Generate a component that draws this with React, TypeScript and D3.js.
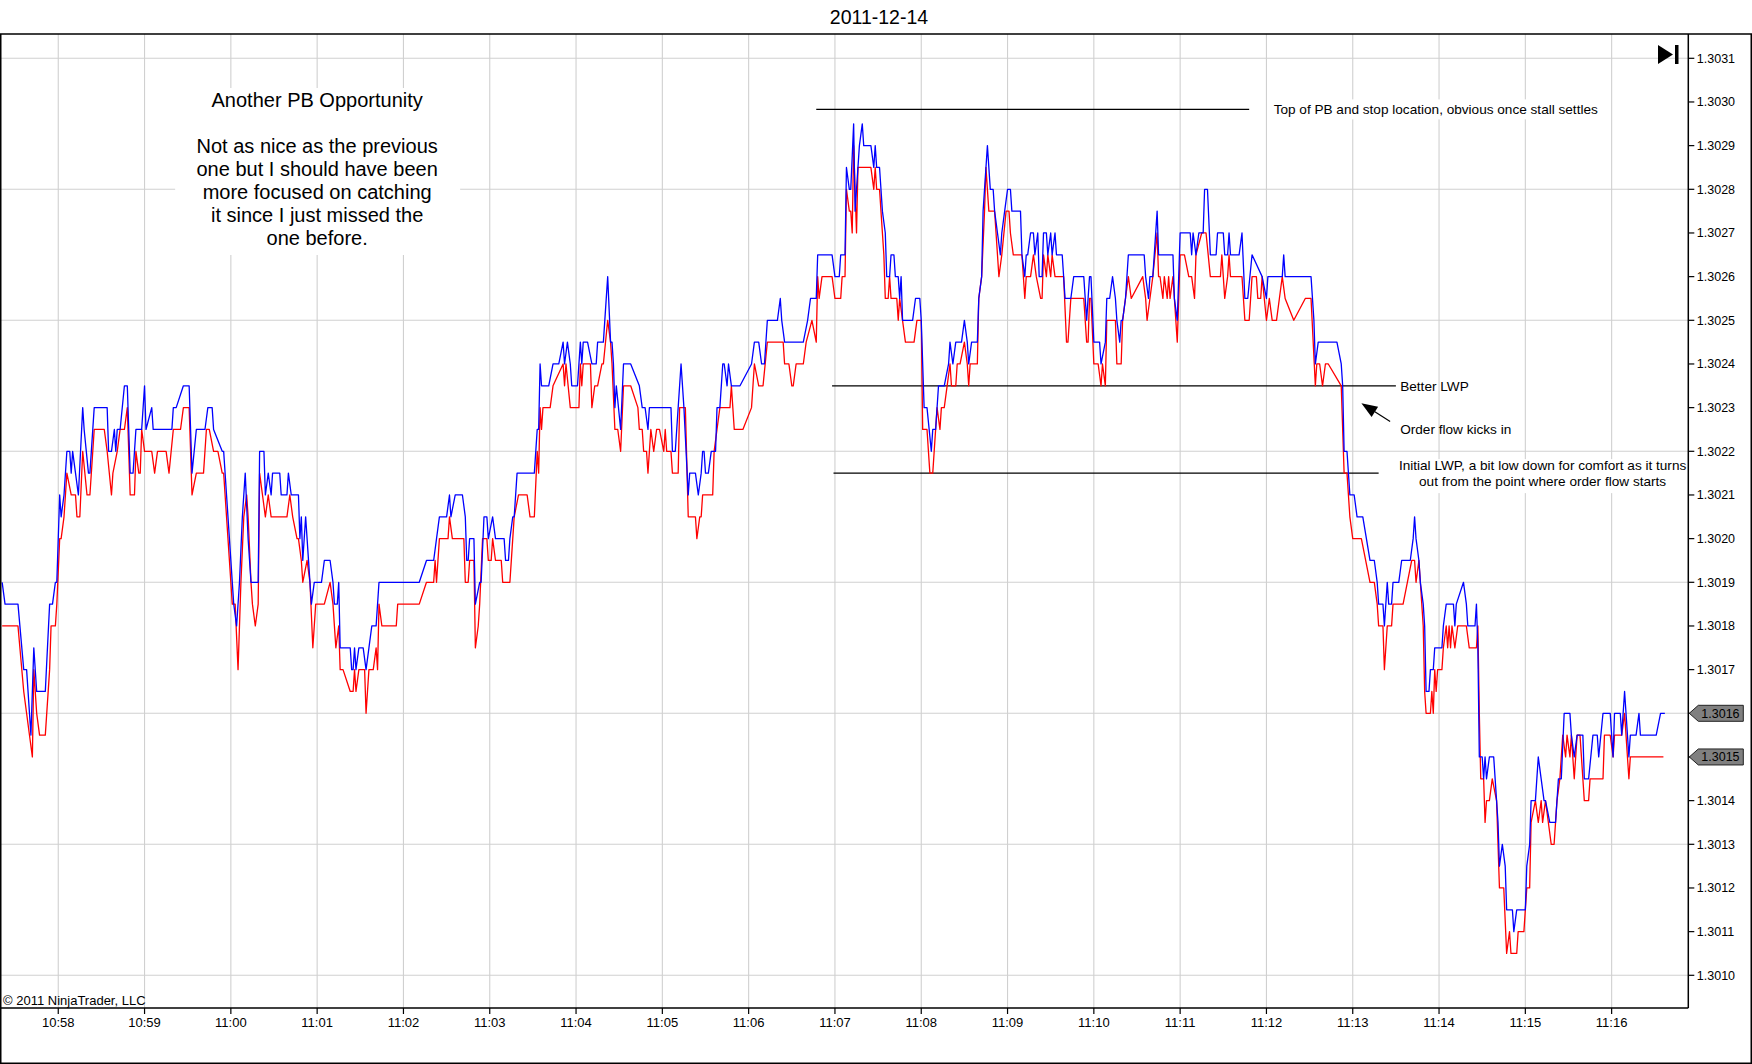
import React, { useEffect, useRef } from 'react';
import * as d3 from 'd3';

// tick data: [seconds after 10:57:00, price]
const askTicks: [number, number][] = [
  [21,1.3019],[23,1.30185],[32,1.30185],[36,1.3017],[38,1.3017],[41,1.30155],[43,1.30175],[45,1.30165],[51,1.30165],[54,1.30185],[56,1.30185],[58,1.3019],[59,1.3019],[61,1.3021],[62,1.30205],[64,1.3021],[66,1.3022],[68,1.3022],[69,1.30215],[70,1.3022],[72,1.30215],[74,1.3021],[77,1.3023],[78,1.30225],[81,1.30215],[82,1.30215],[85,1.3023],[94,1.3023],[95,1.3022],[97,1.3022],[99,1.30225],[100,1.3022],[101,1.30225],[103,1.30225],[106,1.30235],[108,1.30235],[110,1.30215],[112,1.30215],[114,1.30225],[118,1.30225],[120,1.30235],[121,1.30225],[125,1.3023],[126,1.30225],[139,1.30225],[140,1.3023],[142,1.3023],[147,1.30235],[151,1.30235],[153,1.30215],[156,1.30225],[162,1.30225],[164,1.3023],[167,1.3023],[168,1.30225],[174,1.3022],[175,1.3022],[179,1.302],[181,1.3019],[182,1.30185],[184,1.3018],[186,1.3019],[188,1.30205],[190,1.30215],[192,1.302],[194,1.3019],[199,1.3019],[200,1.3022],[203,1.3022],[204,1.3021],[206,1.30215],[208,1.3021],[209,1.30215],[214,1.30215],[215,1.3021],[219,1.3021],[220,1.30215],[222,1.3021],[227,1.3021],[228,1.302],[229,1.30205],[230,1.30195],[232,1.30205],[233,1.302],[236,1.30185],[238,1.3019],[243,1.3019],[245,1.30195],[249,1.30195],[251,1.3019],[252,1.30185],[254,1.30185],[255,1.3019],[256,1.30175],
  [263,1.30175],[264,1.3017],[265,1.3017],[266,1.30175],[267,1.3017],[269,1.30175],[272,1.30175],[274,1.3017],[276,1.30175],[278,1.3018],[281,1.3018],[283,1.3019],[311,1.3019],[316,1.30195],[321,1.30195],[323,1.302],[325,1.30205],[330,1.30205],[332,1.3021],[333,1.30205],[336,1.3021],[341,1.3021],[343,1.30205],[344,1.30195],[345,1.30195],[346,1.302],[349,1.302],[350,1.30185],[353,1.3019],[354,1.3019],[356,1.30205],[358,1.30205],[359,1.302],[362,1.30205],[364,1.302],[370,1.302],[371,1.30195],[373,1.30195],[374,1.302],[376,1.30205],[377,1.30205],[379,1.30215],[391,1.30215],[393,1.30225],[394,1.30225],[395,1.3024],[396,1.30235],[401,1.30235],[404,1.3024],[408,1.3024],[411,1.30245],[412,1.3024],[414,1.30245],[416,1.3024],[417,1.30235],[421,1.30235],[423,1.30245],[424,1.3024],[425,1.30245],[428,1.30245],[431,1.3024],[434,1.3024],[435,1.30245],[439,1.30245],[442,1.3026],[444,1.30245],[445,1.30245],[446,1.3024],[447,1.3023],[448,1.30235],[451,1.30225],[453,1.3024],[458,1.3024],[464,1.30235],[466,1.3023],[468,1.3023],[470,1.30225],[471,1.3023],[486,1.3023],[487,1.3022],[489,1.3022],[493,1.3024],[495,1.3023],[498,1.3021],[499,1.30215],
  [503,1.30215],[505,1.3021],[507,1.30215],[508,1.3022],[509,1.3022],[510,1.30215],[512,1.30215],[514,1.3022],[517,1.3022],[518,1.3023],[520,1.3023],[522,1.3024],[523,1.3024],[525,1.30235],[526,1.3024],[528,1.30235],[534,1.30235],[542,1.3024],[544,1.30245],[547,1.30245],[549,1.3024],[551,1.3024],[553,1.3025],[560,1.3025],[562,1.30255],[563,1.3025],[565,1.30245],[578,1.30245],[581,1.3025],[583,1.30255],[587,1.30255],[588,1.30265],[598,1.30265],[600,1.3026],[603,1.3026],[604,1.30265],[607,1.30265],[608,1.30285],[610,1.3028],[611,1.3028],[613,1.30295],[614,1.30275],[617,1.3029],[619,1.30295],[620,1.3029],[625,1.3029],[627,1.30285],[628,1.3029],[629,1.30285],[631,1.30285],[632,1.3028],[633,1.30275],[635,1.3027],[636,1.3026],[638,1.3026],[639,1.30265],[641,1.30265],[642,1.3026],[644,1.3026],[645,1.30255],[646,1.3026],[647,1.3025],[654,1.3025],[656,1.30255],[659,1.30255],[660,1.3025],[662,1.3023],[664,1.3023],[667,1.3022],[668,1.30225],[670,1.30225],[672,1.30235],[676,1.30235],[679,1.3024],[680,1.30245],[682,1.3024],[684,1.30245],[688,1.30245],[690,1.3025],[692,1.30245],[693,1.3024],[695,1.30245],[699,1.30245],[700,1.30255],[702,1.3026],[703,1.30275],[704,1.3028],[706,1.3029],[708,1.3028],[710,1.3028],[711,1.30275],[713,1.3027],[715,1.30265],[716,1.3027],[718,1.30275],[720,1.3028],[722,1.3028],[723,1.30275],[729,1.30275],[730,1.30265],[732,1.3026],[733,1.30265],[734,1.30265],[736,1.3027],[738,1.3027],[739,1.30265],[741,1.3027],[742,1.3026],
  [744,1.3026],[745,1.3027],[747,1.3027],[748,1.30265],[750,1.3027],[751,1.30265],[753,1.3027],[754,1.30265],[758,1.30265],[760,1.30255],[764,1.30255],[766,1.3026],[773,1.3026],[775,1.3025],[777,1.3026],[778,1.3026],[780,1.30245],[784,1.30245],[785,1.3024],[788,1.30245],[789,1.30255],[791,1.30255],[793,1.3026],[795,1.30255],[796,1.3025],[798,1.30245],[799,1.3025],[800,1.3025],[802,1.30255],[804,1.30265],[815,1.30265],[816,1.3026],[818,1.30255],[819,1.3026],[821,1.3026],[822,1.30265],[824,1.30275],[825,1.30265],[835,1.30265],[836,1.30255],[838,1.3025],[840,1.3027],[847,1.3027],[848,1.30265],[849,1.3027],[851,1.30265],[853,1.3027],[856,1.3027],[857,1.3028],[859,1.3028],[861,1.30265],[865,1.30265],[866,1.3027],[870,1.3027],[871,1.30265],[873,1.30265],[874,1.3027],[875,1.30265],[881,1.30265],[883,1.3027],[885,1.30255],[887,1.30255],[890,1.30265],[897,1.3026],[900,1.30255],[901,1.3026],[911,1.3026],[912,1.30265],[913,1.3026],[931,1.3026],[933,1.3025],[934,1.3024],[936,1.30245],[949,1.30245],[952,1.3024],[953,1.30235],[954,1.3022],[956,1.3022],[958,1.3021],[961,1.3021],[963,1.30205],[967,1.30205],
  [972,1.30195],[975,1.30195],[977,1.3019],[978,1.30185],[981,1.30185],[982,1.3018],[984,1.3019],[985,1.30185],[987,1.30185],[988,1.3019],[992,1.3019],[994,1.30195],[1000,1.30195],[1002,1.302],[1003,1.30205],[1004,1.302],[1006,1.30195],[1007,1.3019],[1009,1.30185],[1010,1.3018],[1011,1.30165],[1013,1.30165],[1014,1.3017],[1016,1.3017],[1017,1.30175],[1022,1.30175],[1023,1.3018],[1025,1.30185],[1030,1.30185],[1031,1.3018],[1032,1.30185],[1037,1.3019],[1039,1.30185],[1040,1.3018],[1045,1.3018],[1046,1.30185],[1047,1.30175],[1048,1.3015],[1050,1.3015],[1051,1.30145],[1052,1.3015],[1053,1.30145],[1055,1.3015],[1058,1.3015],[1060,1.3014],[1061,1.30135],[1062,1.30125],[1064,1.3013],[1066,1.30125],[1067,1.30115],[1071,1.30115],[1072,1.3011],[1074,1.30115],[1080,1.30115],[1081,1.30125],[1083,1.3013],[1084,1.3014],[1087,1.3014],[1089,1.3015],[1091,1.30145],[1093,1.3014],[1094,1.3014],[1097,1.30135],[1101,1.30135],[1103,1.30145],[1105,1.30145],[1107,1.3016],[1111,1.3016],[1112,1.30155],[1114,1.3015],[1116,1.30155],[1120,1.30155],[1121,1.30145],[1124,1.30145],[1127,1.30155],[1130,1.30155],[1131,1.3015],[1134,1.3016],[1139,1.3016],[1140,1.30155],[1141,1.3015],[1142,1.3016],[1146,1.3016],[1147,1.30155],[1149,1.30165],[1150,1.3016],[1152,1.3015],[1153,1.30155],[1157,1.30155],[1159,1.3016],[1160,1.30155],[1171,1.30155],[1174,1.3016],[1177,1.3016],
];

const bidTicks: [number, number][] = [
  [21,1.3018],[32,1.3018],[36,1.30165],[42,1.3015],[43,1.3017],[45,1.3016],[47,1.30155],[51,1.30155],[54,1.3017],[55,1.3018],[58,1.3018],[59,1.30185],[61,1.302],[62,1.302],[64,1.30205],[66,1.30215],[69,1.3021],[72,1.3021],[73,1.30205],[75,1.30205],[77,1.3022],[80,1.3021],[82,1.3021],[85,1.30225],[92,1.30225],[94,1.3022],[97,1.3021],[98,1.30215],[101,1.3022],[103,1.30225],[106,1.30225],[108,1.3023],[110,1.3021],[113,1.3021],[114,1.3022],[116,1.30215],[117,1.30215],[118,1.30225],[120,1.3022],[125,1.3022],[127,1.30215],[129,1.3022],[135,1.3022],[137,1.30215],[140,1.30225],[145,1.30225],[147,1.3023],[151,1.3023],[153,1.3021],[156,1.30215],[161,1.30215],[163,1.30225],[165,1.30225],[168,1.3022],[171,1.3022],[174,1.30215],[175,1.30215],[179,1.30195],[181,1.30185],[183,1.30185],[185,1.3017],[187,1.3019],[189,1.30205],[191,1.3021],[192,1.30205],[194,1.3019],[195,1.30185],[197,1.3018],[199,1.30185],[200,1.30215],[202,1.3021],[204,1.30205],[206,1.3021],[208,1.30205],[219,1.30205],[221,1.3021],[223,1.30205],[226,1.302],[227,1.302],[229,1.30195],[230,1.3019],[233,1.30195],[235,1.3019],[237,1.30175],[239,1.30185],[245,1.30185],[249,1.3019],[251,1.30185],[253,1.30175],[255,1.3018],
  [256,1.3017],[258,1.3017],[263,1.30165],[265,1.30165],[266,1.3017],[267,1.30165],[269,1.3017],[273,1.3017],[274,1.3016],[276,1.3017],[279,1.3017],[281,1.30175],[282,1.3017],[283,1.30185],[285,1.3018],[288,1.3018],[295,1.3018],[296,1.30185],[311,1.30185],[316,1.3019],[321,1.3019],[322,1.30195],[323,1.3019],[325,1.302],[331,1.302],[332,1.30205],[334,1.302],[342,1.302],[343,1.3019],[345,1.3019],[346,1.30195],[349,1.30195],[350,1.30175],[352,1.3018],[353,1.30185],[355,1.302],[358,1.302],[359,1.30195],[361,1.30195],[362,1.302],[364,1.30195],[368,1.30195],[369,1.3019],[374,1.3019],[376,1.302],[377,1.30205],[380,1.3021],[386,1.3021],[388,1.30205],[391,1.30205],[393,1.3022],[394,1.30215],[395,1.3023],[396,1.30225],[397,1.3023],[402,1.3023],[404,1.30235],[411,1.3024],[412,1.30235],[413,1.3024],[416,1.3023],[417,1.3023],[422,1.3023],[423,1.3024],[424,1.30235],[425,1.3024],[430,1.3024],[431,1.3023],[433,1.30235],[435,1.30235],[438,1.3024],[439,1.3024],[442,1.3025],[444,1.30245],[445,1.3024],[447,1.30225],[449,1.30225],[451,1.3022],[453,1.30235],[458,1.30235],[463,1.3023],[464,1.30225],[466,1.30225],[467,1.3022],[469,1.3022],[470,1.30215],[472,1.30225],[474,1.3022],[476,1.30225],[478,1.30225],[481,1.3022],[482,1.30225],[483,1.3022],[486,1.3022],[487,1.30215],[491,1.30215],[492,1.3023],[496,1.3023],[498,1.30205],[499,1.30205],
  [503,1.30205],[504,1.302],[506,1.30205],[507,1.30205],[508,1.3021],[515,1.3021],[516,1.3022],[518,1.30225],[520,1.3023],[527,1.3023],[528,1.30235],[530,1.30225],[536,1.30225],[542,1.3023],[544,1.3024],[547,1.30235],[550,1.30235],[553,1.30245],[564,1.30245],[565,1.3024],[568,1.3024],[570,1.30235],[571,1.30235],[573,1.3024],[578,1.3024],[580,1.30245],[584,1.3025],[587,1.30245],[588,1.3026],[589,1.30255],[591,1.3026],[598,1.3026],[600,1.30255],[604,1.30255],[605,1.3026],[607,1.3026],[608,1.3028],[610,1.30275],[611,1.30275],[612,1.3027],[613,1.3029],[615,1.3027],[616,1.30285],[625,1.30285],[627,1.3028],[628,1.30285],[629,1.3028],[631,1.3028],[632,1.30275],[634,1.30265],[635,1.30255],[637,1.30255],[638,1.3026],[639,1.30255],[643,1.30255],[644,1.3025],[645,1.30255],[647,1.3025],[649,1.30245],[655,1.30245],[657,1.3025],[660,1.3025],[661,1.30225],[664,1.30225],[666,1.30215],[668,1.30215],[669,1.3022],[671,1.3023],[673,1.30225],[674,1.3023],[676,1.3023],[678,1.30235],[680,1.3024],[681,1.30235],[684,1.30235],[685,1.3024],[687,1.3024],[690,1.30245],[692,1.3024],[693,1.30235],[694,1.3024],[699,1.3024],[700,1.30255],[702,1.3026],[704,1.30275],[705,1.30285],[707,1.30275],[711,1.30275],[712,1.3027],[714,1.3026],[716,1.30265],[719,1.30275],[721,1.30275],[722,1.3027],[724,1.30265],[730,1.30265],[732,1.30255],[733,1.3026],[736,1.3026],[738,1.30265],[740,1.3026],[743,1.30255],
  [744,1.30255],[745,1.30265],[747,1.3026],[748,1.30265],[750,1.3026],[751,1.30265],[753,1.3026],[759,1.3026],[761,1.30245],[762,1.30245],[764,1.30255],[773,1.30255],[775,1.30245],[776,1.30245],[777,1.30255],[778,1.30255],[780,1.3024],[783,1.3024],[785,1.30235],[786,1.3024],[788,1.30235],[789,1.3025],[795,1.3025],[796,1.3024],[799,1.3024],[800,1.3025],[802,1.30255],[804,1.3026],[806,1.30255],[814,1.3026],[816,1.30255],[817,1.3025],[819,1.30255],[821,1.3026],[824,1.3027],[825,1.3026],[826,1.3026],[828,1.30255],[829,1.3026],[831,1.30255],[832,1.3026],[833,1.30255],[835,1.3026],[836,1.30255],[838,1.30245],[839,1.30255],[840,1.30265],[843,1.30265],[846,1.3026],[848,1.3026],[850,1.30255],[851,1.30265],[855,1.3027],[858,1.3027],[861,1.3026],[868,1.3026],[869,1.30265],[870,1.3026],[871,1.30255],[873,1.3026],[874,1.30265],[875,1.3026],[883,1.3026],[885,1.3025],[888,1.3025],[890,1.3026],[893,1.3026],[894,1.30255],[896,1.30255],[897,1.3026],[900,1.3025],[902,1.30255],[904,1.3025],[907,1.3025],[909,1.30255],[911,1.3026],[913,1.30255],[919,1.3025],[927,1.30255],[931,1.30255],[934,1.30235],[935,1.3024],[937,1.3024],[939,1.30235],[941,1.3024],[943,1.3024],[952,1.30235],[954,1.30215],[956,1.30215],[958,1.30205],[960,1.302],[966,1.302],
  [972,1.3019],[975,1.3019],[977,1.30185],[978,1.3018],[981,1.3018],[982,1.3017],[984,1.3018],[987,1.3018],[988,1.30185],[995,1.30185],[1001,1.30195],[1003,1.30195],[1004,1.3019],[1006,1.30195],[1007,1.3019],[1009,1.3018],[1010,1.30165],[1011,1.3016],[1014,1.3016],[1015,1.30165],[1016,1.3016],[1017,1.3017],[1018,1.30165],[1019,1.3017],[1022,1.3017],[1023,1.30175],[1025,1.3018],[1026,1.30175],[1027,1.3018],[1028,1.30175],[1029,1.3018],[1031,1.30175],[1033,1.3018],[1039,1.3018],[1041,1.30175],[1046,1.30175],[1047,1.3018],[1048,1.3016],[1049,1.30145],[1051,1.30145],[1052,1.30135],[1053,1.3014],[1055,1.3014],[1057,1.30145],[1060,1.3014],[1062,1.3012],[1065,1.3012],[1067,1.30105],[1069,1.3011],[1070,1.30105],[1074,1.30105],[1075,1.3011],[1079,1.3011],[1081,1.3012],[1083,1.3012],[1084,1.30135],[1087,1.3014],[1089,1.30135],[1091,1.3014],[1092,1.30135],[1094,1.3014],[1096,1.30135],[1098,1.3013],[1100,1.3013],[1102,1.3014],[1104,1.30145],[1106,1.30155],[1108,1.3015],[1109,1.30155],[1111,1.3015],[1112,1.30155],[1114,1.30145],[1116,1.30155],[1118,1.30155],[1121,1.3014],[1124,1.3014],[1125,1.30145],[1134,1.30145],[1135,1.30155],[1139,1.30155],[1141,1.3015],[1142,1.30155],[1147,1.30155],[1149,1.3016],[1150,1.30155],[1152,1.30145],[1153,1.3015],[1176,1.3015],
];

const timeLabels = ['10:58','10:59','11:00','11:01','11:02','11:03','11:04','11:05','11:06','11:07','11:08','11:09','11:10','11:11','11:12','11:13','11:14','11:15','11:16'];
const priceLabels = ['1.3010','1.3011','1.3012','1.3013','1.3014','1.3015','1.3016','1.3017','1.3018','1.3019','1.3020','1.3021','1.3022','1.3023','1.3024','1.3025','1.3026','1.3027','1.3028','1.3029','1.3030','1.3031'];
const gridPrices = ['1.3010','1.3013','1.3016','1.3019','1.3022','1.3025','1.3028','1.3031'];

// drawn horizontal levels: [from, to, price]
const levelLines: [string, string, number][] = [
  ['11:06:47', '11:11:48', 1.302983],
  ['11:06:58', '11:13:30', 1.30235],
  ['11:06:59', '11:13:18', 1.30215],
];

const noteLines = [
  'Another PB Opportunity',
  '',
  'Not as nice as the previous',
  'one but I should have been',
  'more focused on catching',
  'it since I just missed the',
  'one before.',
];

const FONT = '"Liberation Sans", Arial, sans-serif';
const W = 1752;
const H = 1064;

const at = (hms: string) => {
  const [h, m, s] = hms.split(':').map(Number);
  return new Date(2011, 11, 14, h, m, s || 0);
};
const fromStart = (sec: number) => new Date(at('10:57:00').getTime() + sec * 1000);

const App: React.FC = () => {
  const ref = useRef<SVGSVGElement | null>(null);

  useEffect(() => {
    if (!ref.current) return;
    const svg = d3.select(ref.current);
    svg.selectAll('*').remove();

    const plotRight = 1688.3;
    const plotTop = 34;
    const plotBottom = 1008;

    const x = d3.scaleTime()
      .domain([fromStart(19.5), fromStart(1193.3)])
      .range([0, plotRight]);
    const y = d3.scaleLinear().domain([1.3010, 1.3031]).range([975.3, 58.3]);

    svg.append('rect').attr('width', W).attr('height', H).attr('fill', '#fff');

    // title
    svg.append('text').attr('x', 879).attr('y', 24).attr('text-anchor', 'middle')
      .attr('font-family', FONT).attr('font-size', 19.5).text('2011-12-14');

    // grid
    const grid = svg.append('g').attr('stroke', '#d0d0d0').attr('stroke-width', 1.1);
    gridPrices.forEach(p => {
      grid.append('line').attr('x1', 0).attr('x2', plotRight)
        .attr('y1', y(+p)).attr('y2', y(+p));
    });
    timeLabels.forEach(t => {
      grid.append('line').attr('x1', x(at(t))).attr('x2', x(at(t)))
        .attr('y1', plotTop).attr('y2', plotBottom);
    });

    // note box
    const boxCx = x(at('11:01:00'));
    svg.append('rect').attr('x', boxCx - 142).attr('y', 88).attr('width', 285).attr('height', 167)
      .attr('fill', '#fff');
    const note = svg.append('text').attr('font-family', FONT).attr('font-size', 20)
      .attr('text-anchor', 'middle');
    noteLines.forEach((l, i) => {
      note.append('tspan').attr('x', boxCx).attr('y', 106.5 + i * 23).text(l);
    });

    // level lines
    levelLines.forEach(([a, b, p]) => {
      svg.append('line').attr('x1', x(at(a))).attr('x2', x(at(b)))
        .attr('y1', y(p)).attr('y2', y(p)).attr('stroke', '#000').attr('stroke-width', 1.3);
    });

    // price lines
    const line = d3.line<[number, number]>()
      .x(d => x(fromStart(d[0])))
      .y(d => y(d[1]));
    svg.append('path').datum(bidTicks).attr('d', line).attr('fill', 'none')
      .attr('stroke', '#ff0000').attr('stroke-width', 1.3).attr('stroke-linejoin', 'round');
    svg.append('path').datum(askTicks).attr('d', line).attr('fill', 'none')
      .attr('stroke', '#0000ff').attr('stroke-width', 1.3).attr('stroke-linejoin', 'round');

    // annotation texts
    const ann = svg.append('g').attr('font-family', FONT).attr('font-size', 13.6).attr('fill', '#000');
    const topY = y(levelLines[0][2]);
    const topX = x(at('11:12:05'));
    const topText = 'Top of PB and stop location, obvious once stall settles';
    ann.append('rect').attr('x', topX - 4).attr('y', topY - 10).attr('width', 332).attr('height', 20).attr('fill', '#fff');
    ann.append('text').attr('x', topX).attr('y', topY).attr('dy', '0.35em').text(topText);

    ann.append('text').attr('x', x(at('11:13:33'))).attr('y', y(1.30235)).attr('dy', '0.35em').text('Better LWP');
    ann.append('text').attr('x', x(at('11:13:33'))).attr('y', y(1.30225)).attr('dy', '0.35em').text('Order flow kicks in');

    const initX = x(at('11:15:12'));
    const initY = y(1.30215);
    ann.append('rect').attr('x', initX - 148).attr('y', initY - 14).attr('width', 296).attr('height', 34).attr('fill', '#fff');
    ann.append('text').attr('x', initX).attr('y', initY - 3).attr('text-anchor', 'middle')
      .text('Initial LWP, a bit low down for comfort as it turns');
    ann.append('text').attr('x', initX).attr('y', initY + 12.5).attr('text-anchor', 'middle')
      .text('out from the point where order flow starts');

    // arrow
    const ax1 = x(at('11:13:26')), ay1 = y(1.302268);
    const ax2 = x(at('11:13:06')), ay2 = y(1.30231);
    const ang = Math.atan2(ay2 - ay1, ax2 - ax1);
    const headLen = 16, headW = 6;
    const bx = ax2 - headLen * Math.cos(ang), by = ay2 - headLen * Math.sin(ang);
    svg.append('line').attr('x1', ax1).attr('y1', ay1).attr('x2', bx).attr('y2', by)
      .attr('stroke', '#000').attr('stroke-width', 1.2);
    svg.append('path')
      .attr('d', `M${ax2},${ay2}L${bx - headW * Math.sin(ang)},${by + headW * Math.cos(ang)}L${bx + headW * Math.sin(ang)},${by - headW * Math.cos(ang)}Z`)
      .attr('fill', '#000');

    // frame
    const frame = svg.append('g').attr('stroke', '#000').attr('stroke-width', 1.5).attr('fill', 'none');
    frame.append('rect').attr('x', 0.75).attr('y', 34).attr('width', W - 1.5).attr('height', H - 34.75);
    frame.append('line').attr('x1', 0).attr('x2', plotRight).attr('y1', plotBottom).attr('y2', plotBottom);
    frame.append('line').attr('x1', plotRight).attr('x2', plotRight).attr('y1', plotTop).attr('y2', plotBottom);

    // last price markers
    const markers: [number, string][] = [
      [askTicks[askTicks.length - 1][1], askTicks[askTicks.length - 1][1].toFixed(4)],
      [bidTicks[bidTicks.length - 1][1], bidTicks[bidTicks.length - 1][1].toFixed(4)],
    ];
    const covered = new Set(markers.map(m => m[1]));

    // y axis
    const yAxis = svg.append('g').attr('font-family', FONT).attr('font-size', 12.5);
    priceLabels.forEach(p => {
      const yy = y(+p);
      yAxis.append('line').attr('x1', plotRight).attr('x2', plotRight + 6).attr('y1', yy).attr('y2', yy)
        .attr('stroke', '#000').attr('stroke-width', 1.2);
      if (!covered.has(p)) {
        yAxis.append('text').attr('x', plotRight + 8.5).attr('y', yy).attr('dy', '0.35em').text(p);
      }
    });

    // x axis
    const xAxis = svg.append('g').attr('font-family', FONT).attr('font-size', 13);
    timeLabels.forEach(t => {
      const xx = x(at(t));
      xAxis.append('line').attr('x1', xx).attr('x2', xx).attr('y1', plotBottom).attr('y2', plotBottom + 6)
        .attr('stroke', '#000').attr('stroke-width', 1.2);
      xAxis.append('text').attr('x', xx).attr('y', 1027).attr('text-anchor', 'middle').text(t);
    });

    svg.append('text').attr('x', 3).attr('y', 1005).attr('font-family', FONT).attr('font-size', 13)
      .text('\u00a9 2011 NinjaTrader, LLC');

    markers.forEach(([p, label]) => {
      const yy = y(p);
      const x0 = plotRight + 1;
      svg.append('path')
        .attr('d', `M${x0},${yy}L${x0 + 9},${yy - 8}L${x0 + 54},${yy - 8}L${x0 + 54},${yy + 8}L${x0 + 9},${yy + 8}Z`)
        .attr('fill', '#808080').attr('stroke', '#222').attr('stroke-width', 1);
      svg.append('text').attr('x', x0 + 12).attr('y', yy).attr('dy', '0.35em')
        .attr('font-family', FONT).attr('font-size', 12.5).text(label);
    });

    // go-to-end icon
    svg.append('path').attr('d', 'M1658,45L1673,54.5L1658,64Z').attr('fill', '#000');
    svg.append('rect').attr('x', 1675).attr('y', 45).attr('width', 3.5).attr('height', 19).attr('fill', '#000');
  }, []);

  return (
    <svg
      ref={ref}
      width={W}
      height={H}
      style={{ position: 'absolute', left: 0, top: 0, display: 'block' }}
    />
  );
};

export default App;
